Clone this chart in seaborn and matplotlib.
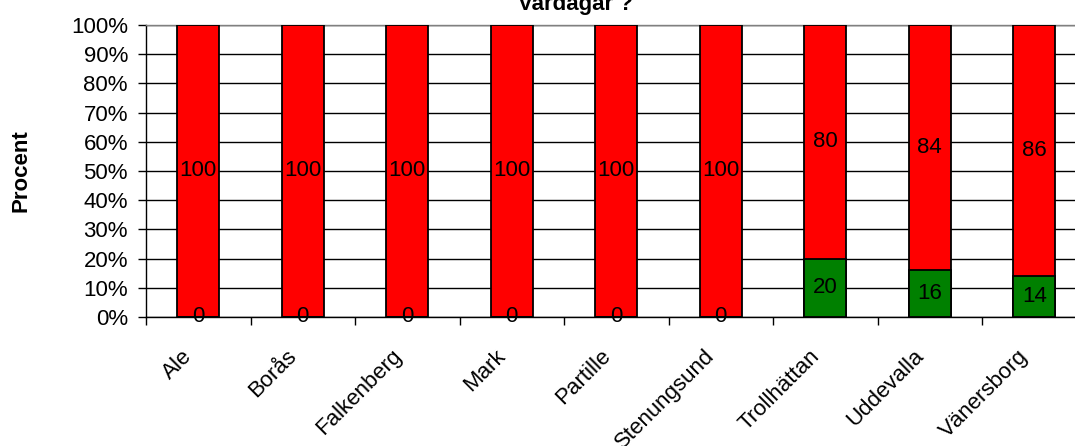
import matplotlib
matplotlib.use("Agg")
import matplotlib.pyplot as plt
import matplotlib.transforms as mtransforms
import seaborn as sns
import pandas as pd
import numpy as np
from matplotlib.ticker import FixedLocator, PercentFormatter

categories = ['Ale', 'Borås', 'Falkenberg', 'Mark', 'Partille', 'Stenungsund',
              'Trollhättan', 'Uddevalla', 'Vänersborg']
green_vals = [0, 0, 0, 0, 0, 0, 20, 16, 14]
red_vals = [100, 100, 100, 100, 100, 100, 80, 84, 86]
y_ticks = [0, 10, 20, 30, 40, 50, 60, 70, 80, 90, 100]
title = 'Vardagar ?'
ylabel = 'Procent'

sns.set_theme(style='white')
plt.rcParams['font.family'] = ['Liberation Sans', 'DejaVu Sans']
plt.rcParams['text.color'] = 'black'
plt.rcParams['xtick.color'] = 'black'
plt.rcParams['ytick.color'] = 'black'
plt.rcParams['xtick.labelcolor'] = 'black'
plt.rcParams['ytick.labelcolor'] = 'black'

W, H = 1075, 446
fig = plt.figure(figsize=(W / 100, H / 100), dpi=100)
ax = fig.add_axes([146 / W, (H - 317) / H, 940.5 / W, 292 / H])

df = pd.DataFrame({'cat': categories, 'green': green_vals, 'red': red_vals})
df['total'] = df['green'] + df['red']

sns.barplot(data=df, x='cat', y='total', color='#FF0000', width=0.4,
            edgecolor='black', linewidth=1.3, saturation=1, ax=ax, zorder=3)
sns.barplot(data=df, x='cat', y='green', color='#008000', width=0.4,
            edgecolor='black', linewidth=1.3, saturation=1, ax=ax, zorder=4)

ax.set_ylim(0, 100)
ax.set_xlim(-0.5, len(categories) - 0.5)
ax.set_yticks(y_ticks)
ax.yaxis.set_major_formatter(PercentFormatter(decimals=0))
ax.grid(axis='y', color='black', linewidth=1, zorder=0)
ax.set_axisbelow(True)

# data labels
for i, (g, r) in enumerate(zip(green_vals, red_vals)):
    ax.text(i, g / 2, f'{g}', ha='center', va='center', fontsize=16, color='black', zorder=6)
    ax.text(i, g + r / 2, f'{r}', ha='center', va='center', fontsize=16, color='black', zorder=6)

ax.set_xlabel('')
ax.set_ylabel('')
ax.tick_params(axis='y', labelsize=16, length=6, width=1, color='black', pad=7, left=True)
ax.xaxis.set_minor_locator(FixedLocator(np.arange(-0.5, len(categories), 1.0)))
ax.tick_params(axis='x', which='minor', length=6, width=1, color='black', bottom=True)
ax.tick_params(axis='x', which='major', length=0, labelsize=16, pad=26)
offset = mtransforms.ScaledTranslation(-9 / 100, 0, fig.dpi_scale_trans)
for lab in ax.get_xticklabels():
    lab.set_rotation(45)
    lab.set_ha('right')
    lab.set_va('center')
    lab.set_rotation_mode('anchor')
    lab.set_color('black')
    lab.set_transform(lab.get_transform() + offset)
for lab in ax.get_yticklabels():
    lab.set_color('black')

for side in ['left', 'bottom']:
    ax.spines[side].set_color('black')
    ax.spines[side].set_linewidth(1)
ax.spines['top'].set_color('#808080')
ax.spines['top'].set_linewidth(1)
ax.spines['right'].set_visible(False)

fig.text(575 / W, (H - 10) / H, title, ha='center', va='baseline',
         fontsize=16, fontweight='bold', color='black')
fig.text(21 / W, (H - 171) / H, ylabel, ha='center', va='center',
         rotation=90, fontsize=16, fontweight='bold', color='black')

fig.savefig('out.png', dpi=100)
